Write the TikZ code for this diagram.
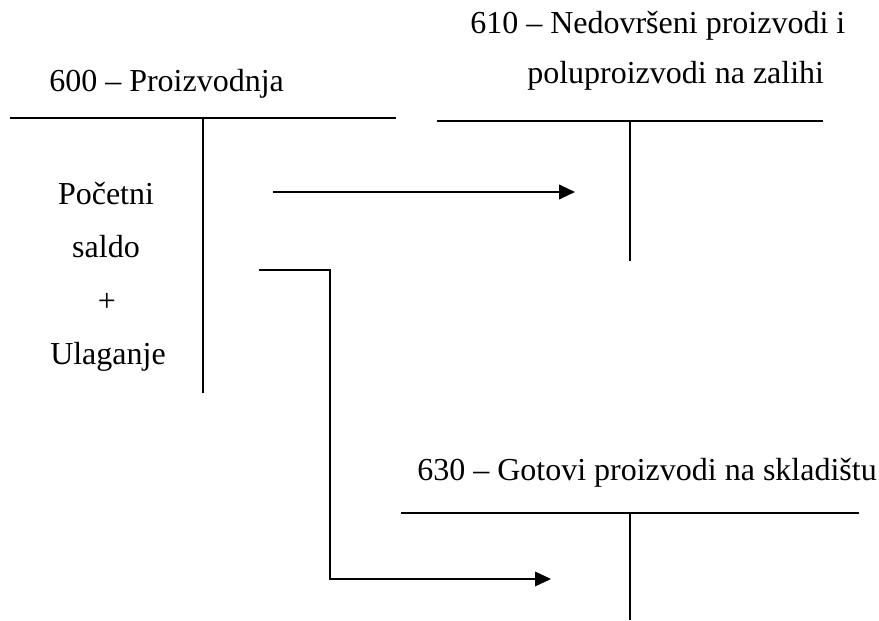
\documentclass[tikz,border=0pt]{standalone}
\usepackage{fontspec}
\setmainfont{Liberation Serif}
\usetikzlibrary{arrows.meta}
\begin{document}
\begin{tikzpicture}[x=0.75pt,y=-0.75pt,
  lbl/.style={inner sep=0pt,font=\fontsize{24pt}{28pt}\selectfont},
  tline/.style={line width=1.9pt},
  flow/.style={line width=1.5pt,-{Triangle[length=12pt,width=11pt]}},
  flowthin/.style={line width=1.1pt,-{Triangle[length=12pt,width=11pt]}}]
\useasboundingbox[fill=white] (0,0) rectangle (879,621);
% Account 600
\node[lbl,anchor=base west] (t600) at (49,91) {600 – Proizvodnja};
\coordinate (a1l) at (10,118);
\coordinate (a1r) at (396,118);
\coordinate (a1t) at (203,118);
\coordinate (a1b) at (203,393);
\draw[tline] (a1l) -- (a1r);
\draw[tline] (a1t) -- (a1b);
\node[lbl,anchor=base] (pocetni) at (106,204) {Početni};
\node[lbl,anchor=base] (saldo) at (106,257) {saldo};
\node[lbl,anchor=base] (plus) at (107,311) {+};
\node[lbl,anchor=base] (ulaganje) at (108,364) {Ulaganje};
% Account 610
\node[lbl,anchor=base west] (t610a) at (470,33) {610 – Nedovršeni proizvodi i};
\node[lbl,anchor=base west] (t610b) at (527,83) {poluproizvodi na zalihi};
\coordinate (a2l) at (437,121);
\coordinate (a2r) at (823,121);
\coordinate (a2t) at (630,121);
\coordinate (a2b) at (630,261);
\draw[tline] (a2l) -- (a2r);
\draw[tline] (a2t) -- (a2b);
% Account 630
\node[lbl,anchor=base west] (t630) at (417,480) {630 – Gotovi proizvodi na skladištu};
\coordinate (a3l) at (401,513);
\coordinate (a3r) at (859,513);
\coordinate (a3t) at (630,513);
\coordinate (a3b) at (630,620);
\draw[tline] (a3l) -- (a3r);
\draw[tline] (a3t) -- (a3b);
% Flows
\coordinate (f1s) at (273,192);
\coordinate (f1e) at (575,192);
\draw[flow] (f1s) -- (f1e);
\coordinate (f2s) at (259,270);
\coordinate (f2k) at (330,270);
\coordinate (f2m) at (330,579);
\coordinate (f2e) at (551,579);
\draw[flowthin] (f2s) -- (f2k) -- (f2m) -- (f2e);
\end{tikzpicture}
\end{document}
